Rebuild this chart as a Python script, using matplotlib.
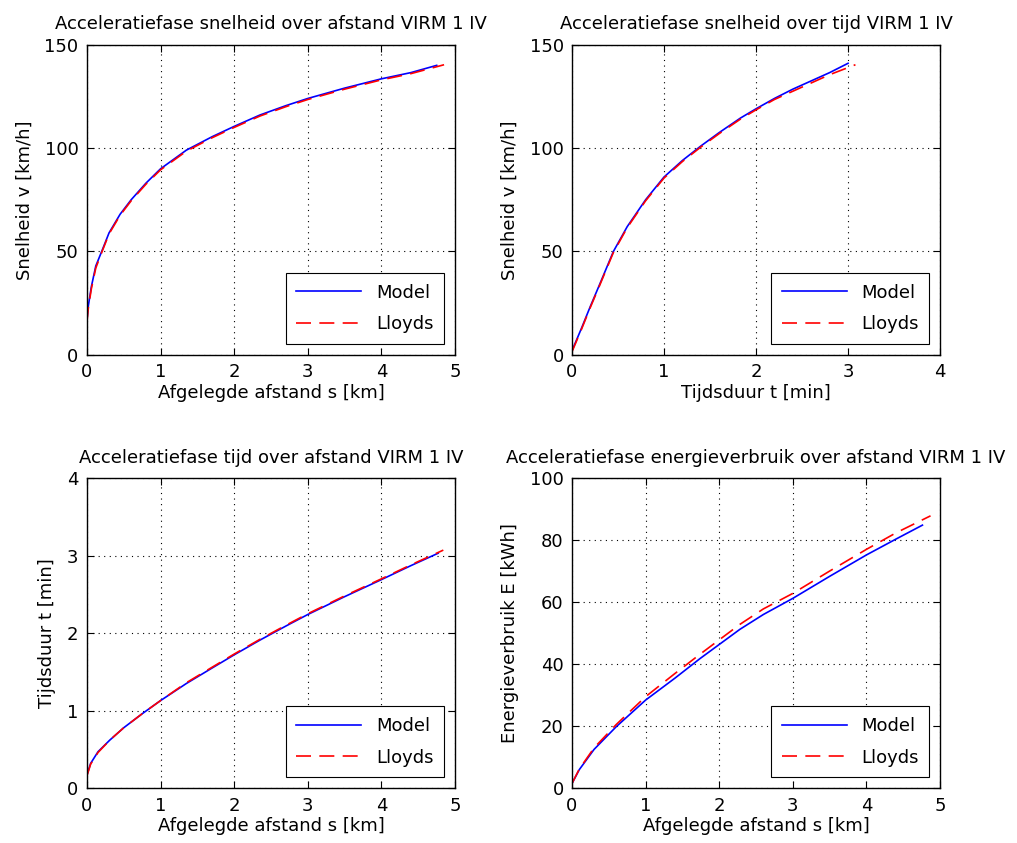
import matplotlib
matplotlib.use("Agg")
import matplotlib.pyplot as plt

# snelheid over afstand
s_v_model = [0, 0.02, 0.06, 0.12, 0.2, 0.3, 0.45, 0.6, 0.8, 1.0, 1.35, 1.7, 2.0, 2.35, 2.7, 3.0, 3.5, 4.0, 4.4, 4.75]
v_s_model = [17, 24, 33, 43, 50, 59, 68, 75, 83, 90, 99, 105.5, 110.5, 116, 120.5, 124, 129, 133.5, 136.5, 140]
s_v_lloyds = [0, 0.02, 0.06, 0.12, 0.2, 0.3, 0.45, 0.6, 0.8, 1.0, 1.35, 1.7, 2.0, 2.35, 2.7, 3.0, 3.5, 4.0, 4.4, 4.85]
v_s_lloyds = [16, 23, 32, 42, 49.5, 58.5, 67.5, 74.5, 82.5, 89.5, 98.5, 105, 110, 115.5, 120, 123.5, 128.5, 133, 136, 140.3]

# snelheid over tijd
t_v_model = [0, 0.1, 0.2, 0.3, 0.45, 0.6, 0.8, 1.0, 1.2, 1.4, 1.6, 1.83, 2.0, 2.2, 2.4, 2.6, 2.8, 3.0]
v_t_model = [2, 12.5, 23.5, 34, 50, 62, 75, 86, 94, 101, 107.5, 114.5, 119, 124, 128.5, 132.5, 136.5, 141]
t_v_lloyds = [0, 0.1, 0.2, 0.3, 0.45, 0.6, 0.8, 1.0, 1.2, 1.4, 1.6, 1.83, 2.0, 2.2, 2.4, 2.6, 2.8, 3.08]
v_t_lloyds = [1.5, 12, 23, 33.5, 49.5, 61.5, 74.5, 85.5, 93.5, 100.5, 107, 114, 118.5, 123.5, 127.5, 131.5, 135.5, 140.3]

# tijd over afstand
s_t_model = [0, 0.05, 0.15, 0.31, 0.5, 0.75, 1.0, 1.35, 1.7, 2.0, 2.35, 2.7, 3.0, 3.5, 4.0, 4.4, 4.77]
t_s_model = [0.17, 0.32, 0.47, 0.62, 0.78, 0.96, 1.13, 1.35, 1.55, 1.72, 1.91, 2.09, 2.24, 2.47, 2.69, 2.87, 3.03]
s_t_lloyds = [0, 0.05, 0.15, 0.31, 0.5, 0.75, 1.0, 1.35, 1.7, 2.0, 2.35, 2.7, 3.0, 3.5, 4.0, 4.4, 4.84]
t_s_lloyds = [0.16, 0.31, 0.46, 0.62, 0.78, 0.96, 1.13, 1.36, 1.56, 1.73, 1.92, 2.1, 2.25, 2.48, 2.7, 2.88, 3.07]

# energieverbruik over afstand
s_e_model = [0, 0.1, 0.3, 0.6, 1.0, 1.4, 1.74, 2.28, 2.6, 3.0, 3.5, 4.0, 4.4, 4.76]
e_s_model = [1.5, 6, 12.5, 19.8, 28.4, 35.5, 41.8, 51.2, 56, 61.2, 68.3, 75.2, 80.3, 84.8]
s_e_lloyds = [0, 0.1, 0.3, 0.6, 1.0, 1.4, 1.74, 2.28, 2.6, 3.0, 3.5, 4.0, 4.4, 4.87]
e_s_lloyds = [1.5, 6.2, 13, 20.5, 29.5, 37, 43.2, 52.8, 57.8, 62.8, 70, 77, 82.3, 87.8]

panels = [
    (s_v_model, v_s_model, s_v_lloyds, v_s_lloyds,
     "Acceleratiefase snelheid over afstand VIRM 1 IV",
     "Afgelegde afstand s [km]", "Snelheid v [km/h]", (0, 5), (0, 150), [0, 50, 100, 150]),
    (t_v_model, v_t_model, t_v_lloyds, v_t_lloyds,
     "Acceleratiefase snelheid over tijd VIRM 1 IV",
     "Tijdsduur t [min]", "Snelheid v [km/h]", (0, 4), (0, 150), [0, 50, 100, 150]),
    (s_t_model, t_s_model, s_t_lloyds, t_s_lloyds,
     "Acceleratiefase tijd over afstand VIRM 1 IV",
     "Afgelegde afstand s [km]", "Tijdsduur t [min]", (0, 5), (0, 4), [0, 1, 2, 3, 4]),
    (s_e_model, e_s_model, s_e_lloyds, e_s_lloyds,
     "Acceleratiefase energieverbruik over afstand VIRM 1 IV",
     "Afgelegde afstand s [km]", "Energieverbruik E [kWh]", (0, 5), (0, 100), [0, 20, 40, 60, 80, 100]),
]

positions = [
    [0.0855, 0.579, 0.362, 0.368],
    [0.5624, 0.579, 0.362, 0.368],
    [0.0855, 0.065, 0.362, 0.368],
    [0.5624, 0.065, 0.362, 0.368],
]

plt.rcParams['font.family'] = 'DejaVu Sans'
fig = plt.figure(figsize=(10.17, 8.43), dpi=100)

for pos, (xm, ym, xl, yl, title, xlab, ylab, xlim, ylim, yticks) in zip(positions, panels):
    ax = fig.add_axes(pos)
    ax.plot(xm, ym, color='blue', lw=1.2, label='Model')
    ax.plot(xl, yl, color='red', lw=1.2, ls=(0, (9, 5)), label='Lloyds')
    ax.set_xlim(*xlim)
    ax.set_ylim(*ylim)
    ax.set_xticks(range(xlim[0], xlim[1] + 1))
    ax.set_yticks(yticks)
    ax.set_title(title, fontsize=13, pad=11)
    ax.set_xlabel(xlab, fontsize=13, labelpad=2)
    ax.set_ylabel(ylab, fontsize=13, labelpad=8)
    ax.grid(True, color='black', ls=(0, (1, 4)), lw=0.8)
    ax.tick_params(direction='in', top=True, right=True, labelsize=13, length=5, pad=6)
    for sp in ax.spines.values():
        sp.set_linewidth(1.0)
    leg = ax.legend(loc='lower right', fontsize=13, handlelength=3.6, fancybox=False,
                    edgecolor='black', framealpha=1, borderaxespad=0.6,
                    labelspacing=0.75, borderpad=0.6)
    leg.get_frame().set_linewidth(0.8)

fig.savefig('out.png', dpi=100)
